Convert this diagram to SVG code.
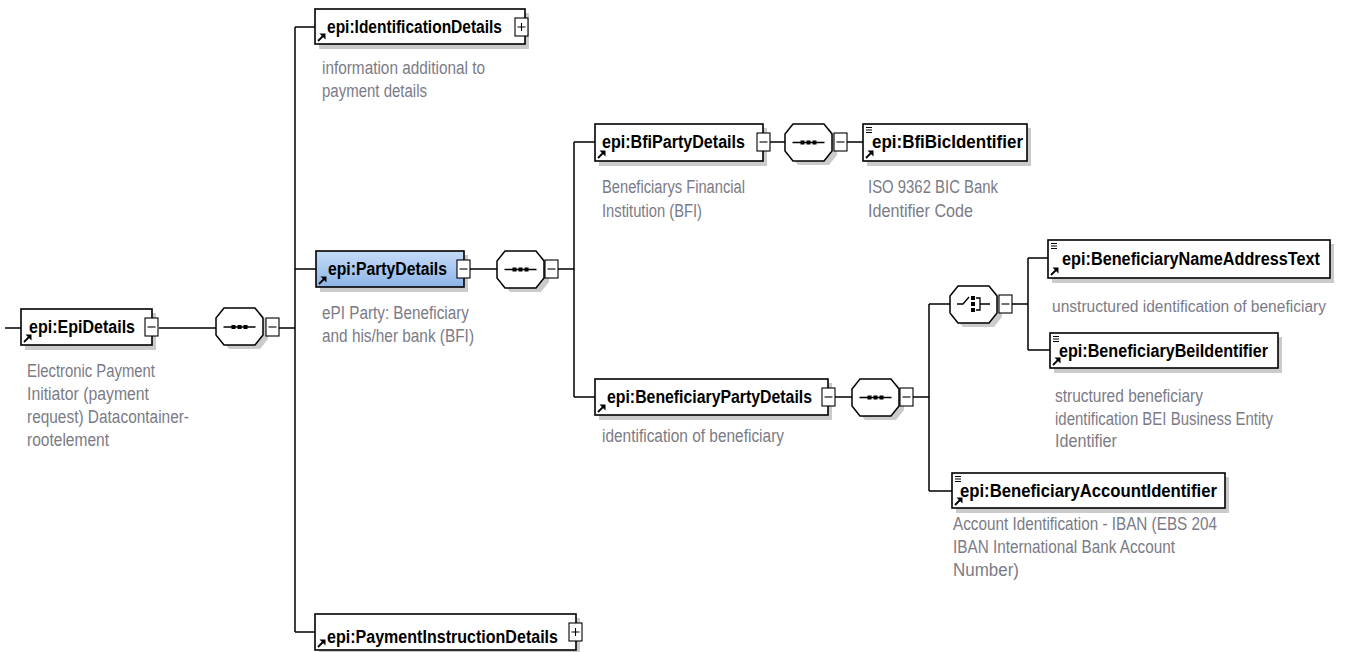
<svg xmlns="http://www.w3.org/2000/svg" xmlns:xlink="http://www.w3.org/1999/xlink" width="1346" height="652" viewBox="0 0 1346 652">
<style>
.box{fill:#fff;stroke:#000;stroke-width:1.6}
.sel{fill:url(#blue);stroke:#000;stroke-width:1.6}
.shadow{fill:#cbcbcb}
.tog{fill:#fff;stroke:#000;stroke-width:1.1}
.togl{stroke:#000;stroke-width:1.1;fill:none}
.lbl{font-family:"Liberation Sans",Arial,sans-serif;font-weight:bold;font-size:18px;fill:#000}
.desc{font-family:"Liberation Sans",Arial,sans-serif;font-size:18px;fill:#7b7b86}
.con{stroke:#000;stroke-width:1.5;fill:none}
.oct{fill:#fff;stroke:#000;stroke-width:1.5}
.octs{fill:#cbcbcb}
</style>
<defs>
<linearGradient id="blue" x1="0" y1="0" x2="0" y2="1">
<stop offset="0" stop-color="#c6dcf8"/>
<stop offset="1" stop-color="#8db4e6"/>
</linearGradient>
<path id="octp" d="M8,0 H39 L47,10 V27 L39,37 H8 L0,27 V10 Z"/>
<g id="arr"><path d="M0,0 L5,-5" stroke="#000" stroke-width="1.8"/><path d="M1.5,-7.5 L7.5,-7.5 L7.5,-1.5 Z" fill="#000"/></g>
<g id="simple"><path d="M0,0.5 H6 M0,3 H6 M0,5.5 H6" stroke="#000" stroke-width="1"/></g>
<g id="seqsym"><path d="M-16,0 H16" stroke="#000" stroke-width="1.3"/><rect x="-8" y="-2" width="4" height="4"/><rect x="-2" y="-2" width="4" height="4"/><rect x="4" y="-2" width="4" height="4"/></g>
<g id="minus"><rect class="tog" x="0" y="0" width="13" height="18"/><path class="togl" d="M2.5,9 H10.5"/></g>
<g id="plus"><rect class="tog" x="0" y="0" width="13" height="18"/><path class="togl" d="M2.5,9 H10.5 M6.5,5 V13"/></g>
</defs>

<g id="connectors">
<path class="con" d="M5,328 H21"/>
<path class="con" d="M159,328 H216"/>
<path class="con" d="M279,328 H295"/>
<path class="con" d="M295,27 V632 M295,27 H315 M295,269 H316 M295,632 H315"/>
<path class="con" d="M470,269 H497"/>
<path class="con" d="M558,269 H574"/>
<path class="con" d="M574,142 V397 M574,142 H595 M574,397 H595"/>
<path class="con" d="M770,142 H785 M847,142 H863"/>
<path class="con" d="M835,397 H852 M913,397 H929"/>
<path class="con" d="M929,304 V491 M929,304 H950 M929,491 H952"/>
<path class="con" d="M1012,304 H1028 M1028,258 V350 M1028,258 H1048 M1028,350 H1050"/>
</g>

<g id="EpiDetails">
<rect class="shadow" x="25" y="313" width="131" height="37"/>
<rect class="box" x="21" y="309" width="131" height="36"/>
<use xlink:href="#arr" x="24" y="342"/>
<text class="lbl" x="29" y="333" textLength="106" lengthAdjust="spacingAndGlyphs">epi:EpiDetails</text>
<use xlink:href="#minus" x="145" y="318"/>
<text class="desc" x="27" y="377" textLength="128" lengthAdjust="spacingAndGlyphs">Electronic Payment</text>
<text class="desc" x="27" y="400" textLength="122" lengthAdjust="spacingAndGlyphs">Initiator (payment</text>
<text class="desc" x="27" y="423" textLength="162" lengthAdjust="spacingAndGlyphs">request) Datacontainer-</text>
<text class="desc" x="27" y="446" textLength="82" lengthAdjust="spacingAndGlyphs">rootelement</text>
</g>

<g id="seq-EpiDetails">
<use xlink:href="#octp" class="octs" x="221" y="312"/>
<use xlink:href="#octp" class="oct" x="216" y="308"/>
<use xlink:href="#seqsym" x="239.5" y="327"/>
<use xlink:href="#minus" x="266" y="318"/>
</g>

<g id="IdentificationDetails">
<rect class="shadow" x="319" y="13" width="210" height="36"/>
<rect class="box" x="315" y="9" width="210" height="35"/>
<use xlink:href="#arr" x="318" y="41"/>
<text class="lbl" x="327" y="33" textLength="175" lengthAdjust="spacingAndGlyphs">epi:IdentificationDetails</text>
<use xlink:href="#plus" x="515" y="18"/>
<text class="desc" x="322" y="74" textLength="163" lengthAdjust="spacingAndGlyphs">information additional to</text>
<text class="desc" x="322" y="97" textLength="105" lengthAdjust="spacingAndGlyphs">payment details</text>
</g>

<g id="PartyDetails">
<rect class="shadow" x="320" y="255" width="148" height="37"/>
<rect class="sel" x="316" y="251" width="148" height="36"/>
<use xlink:href="#arr" x="319" y="284"/>
<text class="lbl" x="328" y="275" textLength="119" lengthAdjust="spacingAndGlyphs">epi:PartyDetails</text>
<use xlink:href="#minus" x="457" y="260"/>
<text class="desc" x="322" y="319" textLength="147" lengthAdjust="spacingAndGlyphs">ePI Party: Beneficiary</text>
<text class="desc" x="322" y="342" textLength="152" lengthAdjust="spacingAndGlyphs">and his/her bank (BFI)</text>
</g>

<g id="seq-PartyDetails">
<use xlink:href="#octp" class="octs" x="502" y="255"/>
<use xlink:href="#octp" class="oct" x="497" y="251"/>
<use xlink:href="#seqsym" x="520.5" y="269.5"/>
<use xlink:href="#minus" x="545" y="260"/>
</g>

<g id="PaymentInstructionDetails">
<rect class="shadow" x="319" y="618" width="261" height="37"/>
<rect class="box" x="315" y="614" width="261" height="36"/>
<use xlink:href="#arr" x="318" y="647"/>
<text class="lbl" x="327" y="643" textLength="231" lengthAdjust="spacingAndGlyphs">epi:PaymentInstructionDetails</text>
<use xlink:href="#plus" x="569" y="623"/>
</g>

<g id="BfiPartyDetails">
<rect class="shadow" x="599" y="128" width="168" height="38"/>
<rect class="box" x="595" y="124" width="168" height="37"/>
<use xlink:href="#arr" x="598" y="158"/>
<text class="lbl" x="602" y="148" textLength="143" lengthAdjust="spacingAndGlyphs">epi:BfiPartyDetails</text>
<use xlink:href="#minus" x="757" y="133"/>
<text class="desc" x="602" y="193" textLength="143" lengthAdjust="spacingAndGlyphs">Beneficiarys Financial</text>
<text class="desc" x="602" y="217" textLength="100" lengthAdjust="spacingAndGlyphs">Institution (BFI)</text>
</g>

<g id="seq-BfiPartyDetails">
<use xlink:href="#octp" class="octs" x="790" y="128"/>
<use xlink:href="#octp" class="oct" x="785" y="124"/>
<use xlink:href="#seqsym" x="808.5" y="142.5"/>
<use xlink:href="#minus" x="834" y="133"/>
</g>

<g id="BfiBicIdentifier">
<rect class="shadow" x="867" y="128" width="164" height="38"/>
<rect class="box" x="863" y="124" width="164" height="37"/>
<use xlink:href="#simple" x="866" y="127"/>
<use xlink:href="#arr" x="866" y="158"/>
<text class="lbl" x="872" y="148" textLength="151" lengthAdjust="spacingAndGlyphs">epi:BfiBicIdentifier</text>
<text class="desc" x="868" y="193" textLength="130" lengthAdjust="spacingAndGlyphs">ISO 9362 BIC Bank</text>
<text class="desc" x="868" y="217" textLength="105" lengthAdjust="spacingAndGlyphs">Identifier Code</text>
</g>

<g id="BeneficiaryPartyDetails">
<rect class="shadow" x="599" y="383" width="233" height="37"/>
<rect class="box" x="595" y="379" width="233" height="36"/>
<use xlink:href="#arr" x="598" y="412"/>
<text class="lbl" x="607" y="403" textLength="205" lengthAdjust="spacingAndGlyphs">epi:BeneficiaryPartyDetails</text>
<use xlink:href="#minus" x="822" y="388"/>
<text class="desc" x="602" y="442" textLength="182" lengthAdjust="spacingAndGlyphs">identification of beneficiary</text>
</g>

<g id="seq-BeneficiaryPartyDetails">
<use xlink:href="#octp" class="octs" x="857" y="383"/>
<use xlink:href="#octp" class="oct" x="852" y="379"/>
<use xlink:href="#seqsym" x="875.5" y="397.5"/>
<use xlink:href="#minus" x="900" y="388"/>
</g>

<g id="choice">
<use xlink:href="#octp" class="octs" x="955" y="290"/>
<use xlink:href="#octp" class="oct" x="950" y="286"/>
<path d="M957,304 H963 L969,297 M976,298 H980 V310 H976 M980,304 H990" stroke="#000" stroke-width="1.3" fill="none"/>
<rect x="971" y="296" width="4" height="4"/>
<rect x="971" y="302" width="4" height="4"/>
<rect x="971" y="308" width="4" height="4"/>
<use xlink:href="#minus" x="999" y="295"/>
</g>

<g id="BeneficiaryNameAddressText">
<rect class="shadow" x="1052" y="244" width="282" height="39"/>
<rect class="box" x="1048" y="240" width="282" height="38"/>
<use xlink:href="#simple" x="1051" y="243"/>
<use xlink:href="#arr" x="1051" y="275"/>
<text class="lbl" x="1062" y="265" textLength="258" lengthAdjust="spacingAndGlyphs">epi:BeneficiaryNameAddressText</text>
<text class="desc" x="1052" y="312" font-size="16" style="font-size:16px" textLength="274" lengthAdjust="spacingAndGlyphs">unstructured identification of beneficiary</text>
</g>

<g id="BeneficiaryBeiIdentifier">
<rect class="shadow" x="1054" y="337" width="228" height="36"/>
<rect class="box" x="1050" y="333" width="228" height="35"/>
<use xlink:href="#simple" x="1053" y="336"/>
<use xlink:href="#arr" x="1053" y="365"/>
<text class="lbl" x="1059" y="357" textLength="209" lengthAdjust="spacingAndGlyphs">epi:BeneficiaryBeiIdentifier</text>
<text class="desc" x="1055" y="402" textLength="148" lengthAdjust="spacingAndGlyphs">structured beneficiary</text>
<text class="desc" x="1055" y="425" textLength="218" lengthAdjust="spacingAndGlyphs">identification BEI Business Entity</text>
<text class="desc" x="1055" y="447" textLength="62" lengthAdjust="spacingAndGlyphs">Identifier</text>
</g>

<g id="BeneficiaryAccountIdentifier">
<rect class="shadow" x="956" y="477" width="273" height="36"/>
<rect class="box" x="952" y="473" width="273" height="35"/>
<use xlink:href="#simple" x="955" y="476"/>
<use xlink:href="#arr" x="955" y="505"/>
<text class="lbl" x="960" y="497" textLength="257" lengthAdjust="spacingAndGlyphs">epi:BeneficiaryAccountIdentifier</text>
<text class="desc" x="953" y="530" textLength="264" lengthAdjust="spacingAndGlyphs">Account Identification - IBAN (EBS 204</text>
<text class="desc" x="953" y="553" textLength="222" lengthAdjust="spacingAndGlyphs">IBAN International Bank Account</text>
<text class="desc" x="953" y="576" textLength="66" lengthAdjust="spacingAndGlyphs">Number)</text>
</g>
</svg>
